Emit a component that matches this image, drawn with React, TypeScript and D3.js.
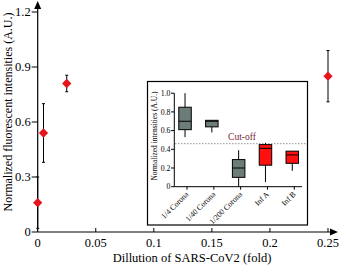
import React, { useRef, useEffect } from 'react';
import * as d3 from 'd3';

// main plot data
const dilutions = [0, 0.005, 0.025, 0.25];
const intensities = [0.16, 0.54, 0.81, 0.85];
const errors = [0.14, 0.16, 0.045, 0.14];
const xTicks = [0, 0.05, 0.1, 0.15, 0.2, 0.25];
const yTicks = [0, 0.3, 0.6, 0.9, 1.2];

// inset box plot data
const groups = ['1/4 Corona', '1/40 Corona', '1/200 Corona', 'Inf A', 'Inf B'];
const whiskerLow = [0.53, 0.58, 0.0, 0.05, 0.17];
const q1 = [0.61, 0.64, 0.1, 0.23, 0.25];
const medians = [0.7, 0.7, 0.2, 0.41, 0.34];
const q3 = [0.85, 0.71, 0.29, 0.45, 0.38];
const whiskerHigh = [1.0, 0.71, 0.39, 0.47, 0.38];
const insetTicks = [0, 0.2, 0.4, 0.6, 0.8, 1.0];
const cutOff = 0.46;

const FONT = "'Liberation Serif', Tinos, 'DejaVu Serif', serif";

const App = () => {
    const svgRef = useRef<SVGSVGElement>(null);

    useEffect(() => {
        const svg = d3.select(svgRef.current);
        svg.selectAll('*').remove();
        svg.style('font-family', FONT);

        const x = d3.scaleLinear().domain([0, 0.25]).range([37.7, 328]);
        const y = d3.scaleLinear().domain([0, 1.2]).range([232, 12]);

        // axes lines with arrows
        svg.append('line')
            .attr('x1', x(0)).attr('x2', x(0))
            .attr('y1', y(0)).attr('y2', 6)
            .attr('stroke', '#000').attr('stroke-width', 1.2);
        svg.append('path')
            .attr('d', `M${x(0)},1 L${x(0) - 3.5},9 L${x(0) + 3.5},9 Z`)
            .attr('fill', '#000');
        svg.append('line')
            .attr('x1', x(0)).attr('x2', 332)
            .attr('y1', y(0)).attr('y2', y(0))
            .attr('stroke', '#000').attr('stroke-width', 1.2);
        svg.append('path')
            .attr('d', `M338,${y(0)} L330,${y(0) - 3.5} L330,${y(0) + 3.5} Z`)
            .attr('fill', '#000');

        // y ticks
        const yt = svg.append('g');
        yt.selectAll('line').data(yTicks).enter().append('line')
            .attr('x1', x(0) - 6).attr('x2', x(0))
            .attr('y1', d => y(d)).attr('y2', d => y(d))
            .attr('stroke', '#000');
        yt.selectAll('text').data(yTicks).enter().append('text')
            .attr('x', x(0) - 7).attr('y', d => y(d) + 4)
            .attr('text-anchor', 'end')
            .attr('font-size', 12.5)
            .text(d => String(d));

        // x ticks
        const xt = svg.append('g');
        xt.selectAll('line').data(xTicks.slice(1)).enter().append('line')
            .attr('x1', d => x(d)).attr('x2', d => x(d))
            .attr('y1', y(0) - 4).attr('y2', y(0))
            .attr('stroke', '#000');
        xt.selectAll('text').data(xTicks).enter().append('text')
            .attr('x', d => x(d)).attr('y', 246.5)
            .attr('text-anchor', 'middle')
            .attr('font-size', 12.5)
            .text(d => String(d));

        // axis titles
        svg.append('text')
            .attr('x', 192).attr('y', 262)
            .attr('text-anchor', 'middle')
            .attr('font-size', 12.5)
            .text('Dillution of SARS-CoV2 (fold)');
        svg.append('text')
            .attr('transform', 'translate(12,112) rotate(-90)')
            .attr('text-anchor', 'middle')
            .attr('font-size', 12)
            .text('Normalized fluorescent intensities (A.U.)');

        // inset frame
        svg.append('rect')
            .attr('x', 147.5).attr('y', 81.5)
            .attr('width', 160).attr('height', 143.5)
            .attr('fill', '#fff').attr('stroke', '#000').attr('stroke-width', 1.2);

        const ix = d3.scalePoint<string>().domain(groups).range([174.3, 303]).padding(0.4);
        const iy = d3.scaleLinear().domain([0, 1]).range([186.7, 93.2]);
        const color = d3.scaleOrdinal<string, string>()
            .domain(groups)
            .range(['#6c7c79', '#6c7c79', '#6c7c79', '#ff1010', '#ff1010']);

        // inset axes
        svg.append('line')
            .attr('x1', 174.3).attr('x2', 174.3)
            .attr('y1', iy(0)).attr('y2', iy(1.0))
            .attr('stroke', '#000');
        svg.append('line')
            .attr('x1', 174.3).attr('x2', 302)
            .attr('y1', iy(0)).attr('y2', iy(0))
            .attr('stroke', '#000');
        const iyt = svg.append('g');
        iyt.selectAll('line').data(insetTicks).enter().append('line')
            .attr('x1', 171).attr('x2', 174.3)
            .attr('y1', d => iy(d)).attr('y2', d => iy(d))
            .attr('stroke', '#000');
        iyt.selectAll('text').data(insetTicks).enter().append('text')
            .attr('x', 170.5).attr('y', d => iy(d) + 2.7)
            .attr('text-anchor', 'end')
            .attr('font-size', 7.8)
            .text(d => (d === 0 ? '0' : d.toFixed(1)));
        svg.append('text')
            .attr('transform', 'translate(157,136) rotate(-90)')
            .attr('text-anchor', 'middle')
            .attr('font-size', 7.5)
            .text('Normalized intensities (A.U.)');

        const ixt = svg.append('g');
        ixt.selectAll('line').data(groups).enter().append('line')
            .attr('x1', d => ix(d)! + 2).attr('x2', d => ix(d)! + 2)
            .attr('y1', iy(0)).attr('y2', iy(0) + 3)
            .attr('stroke', '#000');
        ixt.selectAll('text').data(groups).enter().append('text')
            .attr('transform', d => `translate(${ix(d)! + 4},${iy(0) + 8}) rotate(-45)`)
            .attr('text-anchor', 'end')
            .attr('font-size', 7.8)
            .text(d => d);

        // cut-off
        svg.append('line')
            .attr('x1', 175).attr('x2', 307)
            .attr('y1', iy(cutOff)).attr('y2', iy(cutOff))
            .attr('stroke', '#777').attr('stroke-width', 0.8)
            .attr('stroke-dasharray', '1.5,1.5');
        svg.append('text')
            .attr('x', 242).attr('y', iy(cutOff) - 3.5)
            .attr('text-anchor', 'middle')
            .attr('font-size', 9.5)
            .attr('fill', '#7a1f3d')
            .text('Cut-off');

        // box plots
        const bw = 12.5;
        const boxes = svg.append('g');
        groups.forEach((g, i) => {
            const cx = ix(g)!;
            boxes.append('line')
                .attr('x1', cx).attr('x2', cx)
                .attr('y1', iy(whiskerLow[i])).attr('y2', iy(whiskerHigh[i]))
                .attr('stroke', '#000').attr('stroke-width', 1);
            boxes.append('rect')
                .attr('x', cx - bw / 2).attr('y', iy(q3[i]))
                .attr('width', bw).attr('height', iy(q1[i]) - iy(q3[i]))
                .attr('fill', color(g)).attr('stroke', '#000').attr('stroke-width', 1);
            boxes.append('line')
                .attr('x1', cx - bw / 2).attr('x2', cx + bw / 2)
                .attr('y1', iy(medians[i])).attr('y2', iy(medians[i]))
                .attr('stroke', '#000').attr('stroke-width', 1);
        });

        // error bars and markers
        const pts = svg.append('g');
        dilutions.forEach((d, i) => {
            const px = x(d);
            const lo = y(intensities[i] - errors[i]);
            const hi = y(intensities[i] + errors[i]);
            pts.append('line')
                .attr('x1', px).attr('x2', px).attr('y1', lo).attr('y2', hi)
                .attr('stroke', '#000').attr('stroke-width', 1);
            [lo, hi].forEach(v => {
                pts.append('line')
                    .attr('x1', px - 1.5).attr('x2', px + 1.5).attr('y1', v).attr('y2', v)
                    .attr('stroke', '#000').attr('stroke-width', 1);
            });
        });
        pts.selectAll('path.dia').data(dilutions).enter().append('path')
            .attr('class', 'dia')
            .attr('d', d3.symbol().type(d3.symbolDiamond2).size(55)() as string)
            .attr('transform', (d, i) => `translate(${x(d)},${y(intensities[i])})`)
            .attr('fill', '#e8141c');
    }, []);

    return (
        <svg
            ref={svgRef}
            width={341}
            height={267}
            style={{ position: 'absolute', left: 0, top: 0, background: '#fff' }}
        />
    );
};

export default App;
